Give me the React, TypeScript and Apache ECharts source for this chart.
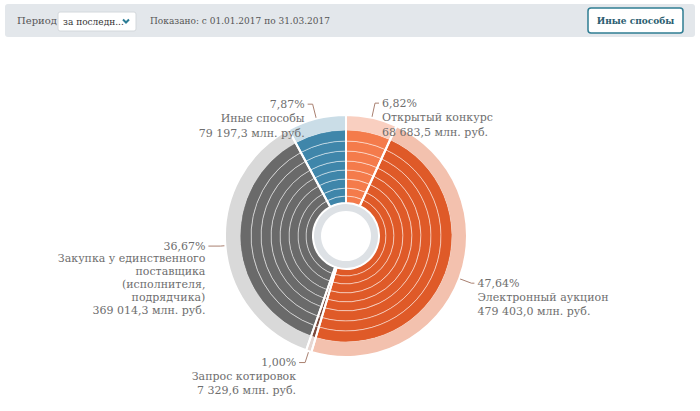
import React, { useEffect, useRef } from "react";
import * as echarts from "echarts";

const names = [
  "Открытый конкурс",
  "Электронный аукцион",
  "Запрос котировок",
  "Закупка у единственного\nпоставщика\n(исполнителя,\nподрядчика)",
  "Иные способы",
];
const amounts = [68683.5, 479403.0, 7329.6, 369014.3, 79197.3];
const percents = [6.82, 47.64, 1.0, 36.67, 7.87];
const darkColors = ["#f47b4b", "#df5a28", "#7d4a3c", "#6a6a6a", "#3f86aa"];
const lightColors = ["#f9cfc0", "#f3c1ae", "#e6d6d1", "#d9d9d9", "#cadde7"];
const bandRadii = [33, 40, 48, 57, 66, 75, 85, 95, 106];

const lineLens = [
  [30, 4],
  [28, 3],
  [27, 6],
  [20, 12],
  [30, 5],
];
const lineHeights = [14.5, 14, 14, 12.8, 14.5];

function fmt(v: number): string {
  const [i, d] = v.toFixed(1).split(".");
  return i.replace(/\B(?=(\d{3})+(?!\d))/g, " ") + "," + d;
}
function pct(v: number): string {
  return v.toFixed(2).replace(".", ",") + "%";
}

const FONT = "DejaVu Serif";
const CENTER = [346, 236];

export default function App() {
  const ref = useRef<HTMLDivElement>(null);
  useEffect(() => {
    if (!ref.current) return;
    const chart = echarts.init(ref.current, undefined, { renderer: "svg" });

    const baseData = names.map((n, i) => ({ name: n, value: amounts[i] }));
    const series: any[] = [];

    series.push({
      type: "pie",
      center: CENTER,
      radius: [25, 33],
      silent: true,
      label: { show: false },
      labelLine: { show: false },
      data: [{ value: 1, itemStyle: { color: "#dde1e5" } }],
    });

    for (let b = 0; b < bandRadii.length - 1; b++) {
      series.push({
        type: "pie",
        center: CENTER,
        radius: [bandRadii[b], bandRadii[b + 1]],
        startAngle: 90,
        silent: true,
        label: { show: false },
        labelLine: { show: false },
        itemStyle: { borderColor: "rgba(255,255,255,0.45)", borderWidth: 1 },
        data: baseData.map((d, i) => ({ ...d, itemStyle: { color: darkColors[i] } })),
      });
    }

    series.push({
      type: "pie",
      center: CENTER,
      radius: [106, 121],
      startAngle: 90,
      silent: true,
      label: { show: false },
      labelLine: { show: false },
      data: baseData.map((d, i) => ({ ...d, itemStyle: { color: lightColors[i] } })),
    });

    series.push({
      type: "pie",
      center: CENTER,
      radius: [33, 121],
      startAngle: 90,
      silent: true,
      label: { show: false },
      labelLine: { show: false },
      itemStyle: { color: "rgba(0,0,0,0)", borderColor: "#ffffff", borderWidth: 2 },
      data: baseData,
    });

    series.push({
      type: "pie",
      center: CENTER,
      radius: [33, 106],
      startAngle: 90,
      silent: true,
      avoidLabelOverlap: false,
      itemStyle: { color: "rgba(0,0,0,0)" },
      label: {
        show: true,
        position: "outside",
        color: "#6e6e6e",
        fontFamily: FONT,
        fontSize: 11,
        distanceToLabelLine: 3,
        formatter: (p: any) => {
          const i = p.dataIndex;
          const n = names[i].split("\n").length + 2;
          return (
            "\n".repeat(n - 1) +
            pct(percents[i]) + "\n" + names[i] + "\n" + fmt(amounts[i]) + " млн. руб."
          );
        },
      },
      labelLine: { show: true, lineStyle: { color: "#a98070", width: 1 } },
      data: baseData.map((d, i) => ({
        ...d,
        label: { lineHeight: lineHeights[i] },
        labelLine: { length: lineLens[i][0], length2: lineLens[i][1] },
      })),
    });

    chart.setOption({
      animation: false,
      backgroundColor: "#ffffff",
      graphic: [
        { type: "rect", shape: { x: 5, y: 4, width: 690, height: 33, r: 3 }, style: { fill: "#e3e7eb" } },
        {
          type: "text",
          x: 17,
          y: 20.5,
          style: { text: "Период", font: `10px "${FONT}"`, fill: "#555", verticalAlign: "middle" },
        },
        {
          type: "rect",
          shape: { x: 58, y: 12, width: 78, height: 19, r: 2 },
          style: { fill: "#ffffff", stroke: "#d3d8dc", lineWidth: 1 },
        },
        {
          type: "text",
          x: 63,
          y: 21.5,
          style: { text: "за последн...", font: `9px "${FONT}"`, fill: "#333", verticalAlign: "middle" },
        },
        {
          type: "polyline",
          shape: { points: [[123, 19.5], [126, 22.5], [129, 19.5]] },
          style: { stroke: "#2a7c95", lineWidth: 2, fill: "none" },
        },
        {
          type: "text",
          x: 150,
          y: 20.5,
          style: {
            text: "Показано: с 01.01.2017 по 31.03.2017",
            font: `9px "${FONT}"`,
            fill: "#555",
            verticalAlign: "middle",
          },
        },
        {
          type: "rect",
          shape: { x: 588, y: 8, width: 95, height: 25, r: 3 },
          style: { fill: "#ffffff", stroke: "#2f7d93", lineWidth: 1.5 },
        },
        {
          type: "text",
          x: 635.5,
          y: 20.5,
          style: {
            text: "Иные способы",
            font: `bold 9px "${FONT}"`,
            fill: "#2b5d70",
            align: "center",
            verticalAlign: "middle",
          },
        },
      ],
      series,
    });
    return () => chart.dispose();
  }, []);
  return (
    <div
      ref={ref}
      style={{ position: "absolute", left: 0, top: 0, width: 700, height: 411 }}
    />
  );
}
